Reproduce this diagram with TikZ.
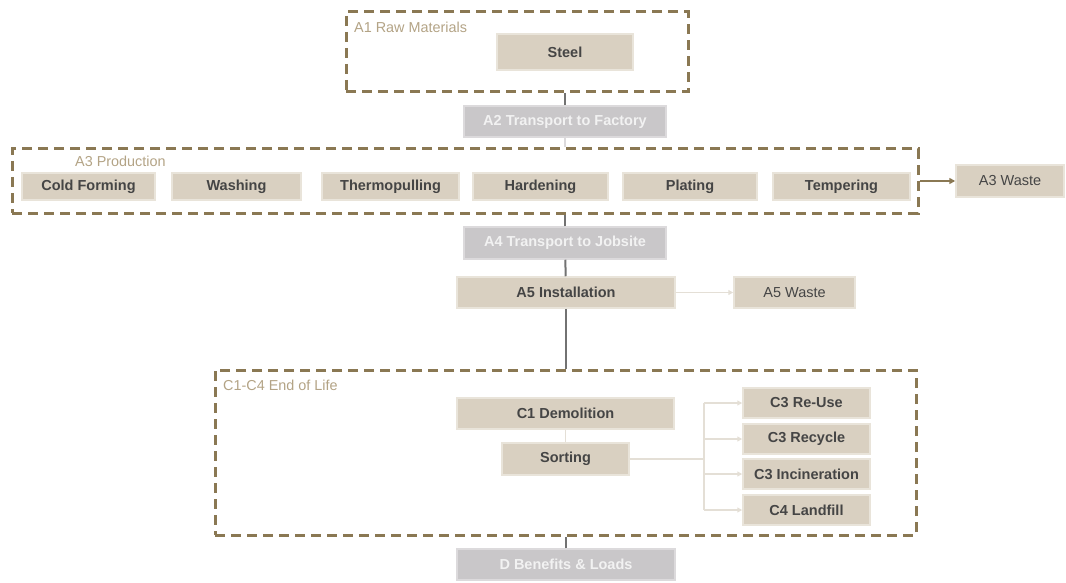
\documentclass[tikz,border=0pt]{standalone}
\usepackage{fontspec}
\setmainfont{Liberation Sans}
\usetikzlibrary{arrows.meta}
\definecolor{grpline}{HTML}{8A7853}
\definecolor{grptext}{HTML}{B3A385}
\definecolor{boxfill}{HTML}{D9D0C1}
\definecolor{boxedge}{HTML}{E9E4DA}
\definecolor{boxtext}{HTML}{454545}
\definecolor{greyfill}{HTML}{C9C7C9}
\definecolor{greyedge}{HTML}{DCDADC}
\definecolor{darkline}{HTML}{727272}
\definecolor{lightline}{HTML}{E4DFD6}

\begin{document}
\begin{tikzpicture}[x=1pt, y=-1pt,
		box/.style={draw=boxedge, line width=1.5pt, fill=boxfill, text=boxtext, inner sep=0pt,
			font=\fontsize{14.5}{16}\selectfont\bfseries},
		greybox/.style={box, draw=greyedge, fill=greyfill, text=white!95!black},
		wastebox/.style={box, font=\fontsize{14.5}{16}\selectfont},
		group/.style={draw=grpline, line width=3pt, dash pattern=on 10pt off 6pt, inner sep=0pt},
		grplabel/.style={anchor=west, text=grptext, inner sep=0pt, font=\fontsize{14.4}{16}\selectfont},
		mainline/.style={draw=darkline, line width=2pt},
		paleline/.style={draw=lightline, line width=1.5pt},
		palearrow/.style={paleline, -{Triangle[length=5pt,width=5pt]}},
		wastearrow/.style={draw=grpline, line width=1.5pt, -{Triangle[length=6pt,width=6pt]}}]
	\useasboundingbox (0,0) rectangle (1066,583);
	% A1 raw materials
	\node[group, minimum width=342pt, minimum height=80pt] (a1grp) at (517,52) {};
	\node[grplabel] (a1lbl) at (354,27) {A1 Raw Materials};
	\node[box, minimum width=136pt, minimum height=36pt] (steel) at (565,52) {Steel};
	\node[greybox, minimum width=202pt, minimum height=31pt] (a2) at (565,121.5) {A2 Transport to Factory};
	% A3 production
	\node[group, minimum width=906pt, minimum height=64pt] (a3grp) at (465,181) {};
	\node[grplabel] (a3lbl) at (75,161) {A3 Production};
	\foreach \nm/\cx/\w/\txt in {cold/88.5/133/Cold Forming, wash/236.5/129/Washing,
			thermo/390.5/137/Thermopulling, harden/540.5/135/Hardening,
			plate/690/134/Plating, temper/841.5/137/Tempering} {
		\node[box, minimum width=\w pt, minimum height=27pt] (\nm) at (\cx,186.5) {\txt};
	}
	\node[wastebox, minimum width=108pt, minimum height=32pt] (a3waste) at (1010,181) {A3 Waste};
	\node[greybox, minimum width=202pt, minimum height=32pt] (a4) at (565,243) {A4 Transport to Jobsite};
	\node[box, minimum width=218pt, minimum height=31pt] (a5) at (566,292.5) {A5 Installation};
	\node[wastebox, minimum width=121pt, minimum height=31pt] (a5waste) at (794.5,292.5) {A5 Waste};
	% C1-C4 end of life
	\node[group, minimum width=701pt, minimum height=165pt] (eolgrp) at (565.5,452.5) {};
	\node[grplabel] (eollbl) at (223,385) {C1-C4 End of Life};
	\node[box, minimum width=217pt, minimum height=31pt] (c1) at (565.5,413.5) {C1 Demolition};
	\node[box, minimum width=127pt, minimum height=32pt] (sort) at (565.5,459) {Sorting};
	\node[box, minimum width=127pt, minimum height=30pt] (reuse) at (806.5,403) {C3 Re-Use};
	\node[box, minimum width=127pt, minimum height=30pt] (recycle) at (806.5,439) {C3 Recycle};
	\node[box, minimum width=127pt, minimum height=30pt] (incin) at (806.5,474) {C3 Incineration};
	\node[box, minimum width=127pt, minimum height=30pt] (landfill) at (806.5,510) {C4 Landfill};
	\node[greybox, minimum width=218pt, minimum height=31pt] (dben) at (566,564.5) {D Benefits \& Loads};
	% connectors
	\draw[mainline] (a2.north) -- (a2.north |- a1grp.south);
	\draw[paleline, draw=greyedge] (a2.south) -- (a2.south |- a3grp.north);
	\draw[mainline] (a4.north) -- (a4.north |- a3grp.south);
	\draw[mainline] (a4) -- (a5);
	\draw[mainline] (a5.south) -- (a5.south |- eolgrp.north);
	\draw[mainline] (dben.north) -- (dben.north |- eolgrp.south);
	\draw[wastearrow] (a3grp.east |- a3waste) -- (a3waste.west);
	\draw[palearrow] (a5) -- (a5waste);
	\draw[paleline] (c1) -- (sort);
	\draw[paleline] (sort.east) -- (704,459) coordinate (split);
	\draw[paleline] (split |- reuse) -- (split |- landfill);
	\foreach \nm in {reuse, recycle, incin, landfill} {
		\draw[palearrow] (split |- \nm) -- (\nm.west);
	}
\end{tikzpicture}
\end{document}
